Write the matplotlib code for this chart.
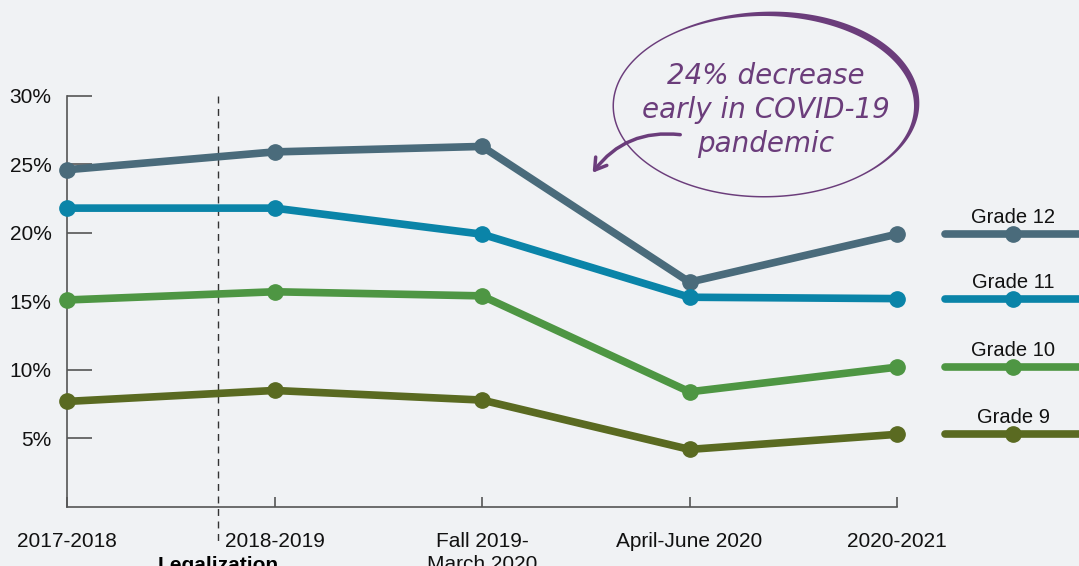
import numpy as np
import matplotlib.pyplot as plt
from matplotlib.patches import Polygon, FancyArrowPatch

periods = ['2017-2018', '2018-2019', 'Fall 2019-\nMarch 2020', 'April-June 2020', '2020-2021']
grades = ['Grade 12', 'Grade 11', 'Grade 10', 'Grade 9']
grade12 = [24.6, 25.9, 26.3, 16.4, 19.9]
grade11 = [21.8, 21.8, 19.9, 15.3, 15.2]
grade10 = [15.1, 15.7, 15.4, 8.4, 10.2]
grade9 = [7.7, 8.5, 7.8, 4.2, 5.3]
series = [grade12, grade11, grade10, grade9]
colors = ['#4a6b7b', '#0a84a8', '#4e9643', '#5a6a21']
yticks = [5, 10, 15, 20, 25, 30]
legal_x = 0.73
bg = '#f0f2f4'

plt.rcParams['font.family'] = ['Liberation Sans', 'DejaVu Sans']

fig = plt.figure(figsize=(10.79, 5.66), dpi=100, facecolor=bg)
ax = fig.add_axes([67/1079, 1-507/566, (897-67)/1079, (507-95.7)/566])
ax.set_facecolor(bg)

for vals, c, name in zip(series, colors, grades):
    x = np.arange(len(vals))
    ax.plot(x, vals, color=c, lw=5.5, marker='o', ms=11, solid_capstyle='round',
            clip_on=False, zorder=3)
    # legend line at right, same height as the last point
    ax.plot([4.23, 5.2], [vals[-1]]*2, color=c, lw=5.5, solid_capstyle='round',
            clip_on=False, zorder=3)
    ax.plot([4.56], [vals[-1]], color=c, marker='o', ms=11, clip_on=False, zorder=3)
    ax.text(4.56, vals[-1] + 0.5, name, ha='center', va='bottom', fontsize=14.5,
            color='#111111')

ax.set_xlim(0, 4)
ax.set_ylim(0, 30)
for s in ['top', 'right']:
    ax.spines[s].set_visible(False)
for s in ['left', 'bottom']:
    ax.spines[s].set_color('#555555')
    ax.spines[s].set_linewidth(1.2)

ax.set_yticks(yticks)
ax.set_yticklabels([f'{v}%' for v in yticks], fontsize=15, color='#111111')
ax.tick_params(axis='y', direction='in', length=18, width=1.2, color='#555555', pad=11)
ax.set_xticks(range(len(periods)))
ax.set_xticklabels(periods, fontsize=15, color='#111111', va='top', linespacing=1.3)
ax.tick_params(axis='x', direction='in', length=7, width=1.2, color='#555555', pad=18)

ax.plot([legal_x, legal_x], [30, -2.5], ls=(0, (5, 4)), color='#333333', lw=1,
        clip_on=False, zorder=2)
ax.text(legal_x, -3.6, 'Legalization', ha='center', va='top', fontsize=15,
        fontweight='bold', clip_on=False)

# annotation bubble in pixel space
ov = fig.add_axes([0, 0, 1, 1], facecolor='none')
ov.set_xlim(0, 1079)
ov.set_ylim(566, 0)
ov.axis('off')
purple = '#6b3d7b'
t = np.linspace(0, 2*np.pi, 400)
cx, cy, rx, ry = 764, 106, 150, 90
thick = 1.5 + 5.5*np.clip(np.cos(t - 5.6), 0, None)**1.5
xi, yi = cx + rx*np.cos(t), cy + ry*np.sin(t)
xo, yo = cx + (rx+thick)*np.cos(t), cy + (ry+thick)*np.sin(t)
ring = np.vstack([np.column_stack([xo, yo]), np.column_stack([xi, yi])[::-1]])
ov.add_patch(Polygon(ring, closed=True, color=purple, lw=0))
ov.text(766, 110, '24% decrease\nearly in COVID-19\npandemic', ha='center', va='center',
        fontsize=20, color=purple, linespacing=1.25,
        family=['DejaVu Sans'], fontweight='light', style='italic')
ov.add_patch(FancyArrowPatch((683, 135), (591, 175), connectionstyle='arc3,rad=0.3',
                             arrowstyle='->,head_length=8,head_width=5', color=purple,
                             lw=2.5))

fig.savefig('out.png', dpi=100, facecolor=bg)
